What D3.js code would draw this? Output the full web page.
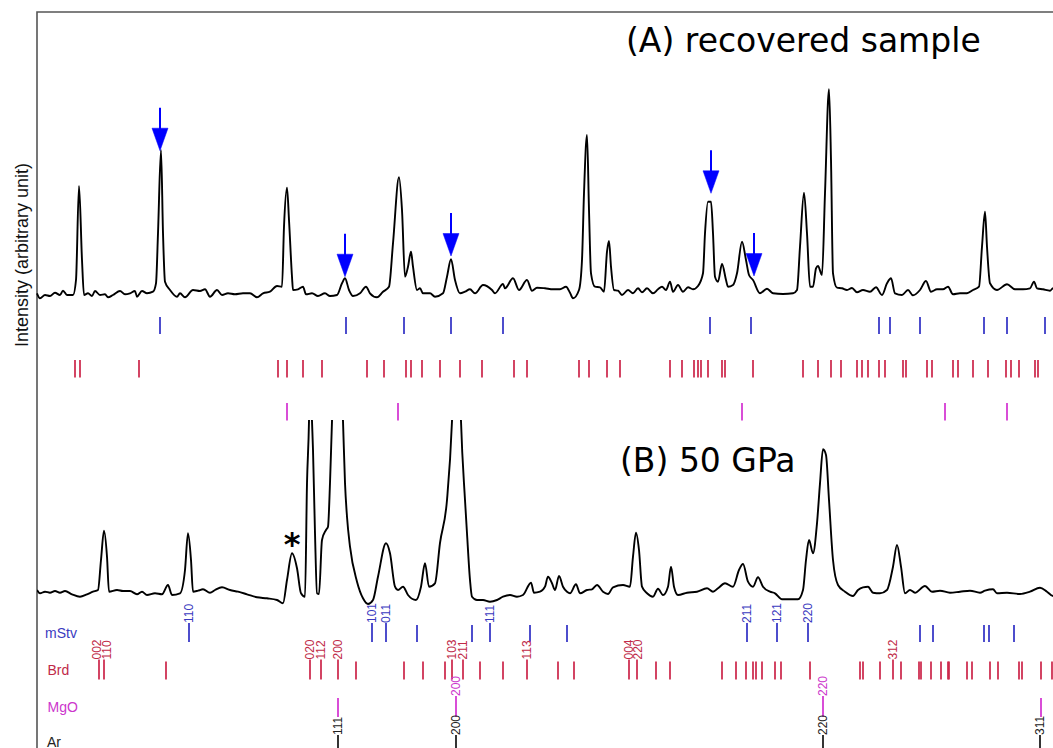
<!DOCTYPE html>
<html>
<head>
<meta charset="utf-8">
<script src="https://cdn.jsdelivr.net/npm/d3@7"></script>
<style>
  body { margin: 0; background: #fff; }
  svg { display: block; }
  text { font-family: "Liberation Sans", Arial, Helvetica, sans-serif; }
  .title, .star { font-family: "DejaVu Sans", Verdana, sans-serif; }
</style>
</head>
<body>
<svg id="chart"></svg>
<script>
// 2-theta (deg) vs intensity (arb.)
const patternA = [
  [6.00,6.7],[6.03,1.7],[6.08,5],[6.13,4],[6.18,7.3],[6.23,5],[6.26,9.3],[6.30,5],[6.36,5],[6.39,20],
  [6.42,114],[6.45,40],[6.47,5],[6.51,6.7],[6.55,4],[6.58,9],[6.63,5],[6.68,5.7],[6.71,2.7],[6.76,5],
  [6.83,9],[6.88,5.7],[6.93,6.7],[6.98,9],[7.00,3.3],[7.05,9],[7.10,6.7],[7.16,8.3],[7.19,16.7],[7.21,66.7],
  [7.24,150],[7.26,67],[7.28,18.3],[7.33,10],[7.40,3.3],[7.43,6.7],[7.48,2.7],[7.56,10],[7.63,9],[7.68,10.7],
  [7.73,3.3],[7.80,10],[7.85,5],[7.91,6.7],[7.98,5.7],[8.06,6.7],[8.13,6.7],[8.20,2.7],[8.26,6.7],[8.33,8.3],
  [8.40,14],[8.45,13.3],[8.47,73.3],[8.50,112.3],[8.52,80],[8.55,23.3],[8.56,10],[8.61,10.7],[8.66,13.3],[8.69,5.7],
  [8.75,6.7],[8.81,4],[8.88,6.7],[8.93,4],[9.00,5],[9.05,16.7],[9.08,21.7],[9.12,10],[9.16,4],[9.23,6.7],
  [9.29,13.3],[9.33,6.7],[9.40,2.7],[9.46,8.3],[9.52,13.3],[9.56,56.7],[9.62,122.7],[9.65,90],[9.68,23.3],[9.71,33.3],
  [9.74,48.3],[9.76,33.3],[9.80,10],[9.83,11.7],[9.86,6.7],[9.93,6.7],[9.98,3.3],[10.06,6.7],[10.10,23.3],[10.14,40.7],
  [10.18,20],[10.23,6.7],[10.28,8.3],[10.33,10.7],[10.38,6.7],[10.46,15],[10.55,10],[10.58,6.7],[10.66,16],[10.68,11.7],
  [10.76,21.7],[10.82,10],[10.90,20],[10.95,9.3],[11.00,12.3],[11.08,11.7],[11.16,10.7],[11.23,10.7],[11.29,13.3],[11.33,7.3],
  [11.36,1.7],[11.42,10],[11.45,40],[11.47,106.7],[11.50,165],[11.52,90],[11.54,26.7],[11.58,13.3],[11.63,12.7],[11.67,8.3],
  [11.70,48.3],[11.72,59],[11.74,33.3],[11.77,10],[11.81,9.3],[11.85,5],[11.91,10],[11.96,6.7],[12.01,11.7],[12.05,7.7],
  [12.10,11.7],[12.16,6.7],[12.21,10.7],[12.25,13.3],[12.29,10],[12.33,18.3],[12.36,8.3],[12.41,15],[12.46,8.3],[12.51,12.7],
  [12.56,10.7],[12.61,14],[12.66,26.7],[12.68,66.7],[12.71,98.3],[12.74,98.3],[12.76,66.7],[12.78,23.3],[12.81,18.3],[12.85,36],
  [12.89,20],[12.91,13.3],[12.96,15],[13.00,26.7],[13.05,58.3],[13.09,40],[13.12,25],[13.16,20],[13.23,6.7],[13.30,11.3],
  [13.36,6.7],[13.46,6],[13.56,6.7],[13.60,10],[13.63,53.3],[13.67,107.3],[13.70,66.7],[13.73,13.3],[13.76,13.3],[13.79,31.7],
  [13.81,34],[13.85,25],[13.88,106.7],[13.92,210.7],[13.94,140],[13.96,26.7],[14.00,12.3],[14.05,11.7],[14.10,10],[14.15,12],
  [14.20,7.7],[14.26,10],[14.33,8.3],[14.39,12.7],[14.45,5],[14.50,16.7],[14.54,21.7],[14.58,6.7],[14.65,5],[14.71,10],
  [14.76,4.7],[14.83,10],[14.89,19],[14.94,8.3],[15.00,10.7],[15.06,10.7],[15.11,13.3],[15.16,5.7],[15.23,6.7],[15.30,6.7],
  [15.36,10],[15.42,13.3],[15.45,53.3],[15.48,88.3],[15.50,53.3],[15.53,16.7],[15.60,10],[15.70,15.7],[15.78,10.7],[15.86,10.7],
  [15.93,11.7],[15.97,18.3],[16.00,11.7],[16.06,10.7],[16.13,9.3],[16.16,11.7],[16.25,10]
];

const patternB = [
  [6.00,10],[6.03,6.7],[6.08,8.3],[6.13,7.3],[6.18,9],[6.23,7.3],[6.28,9],[6.35,5.7],[6.43,3.3],[6.50,5.7],
  [6.56,8.3],[6.61,10],[6.64,40],[6.67,69.3],[6.70,43.3],[6.72,8.3],[6.80,10],[6.86,9],[6.93,9],[7.00,5.7],
  [7.05,8.3],[7.10,5],[7.18,6.7],[7.25,5.7],[7.31,15],[7.35,5],[7.43,6.7],[7.48,30],[7.51,66.7],[7.54,40],
  [7.56,8.3],[7.61,9.3],[7.66,10.7],[7.73,7.3],[7.78,10],[7.85,12.7],[7.93,10],[8.01,8.3],[8.10,5.7],[8.20,2.7],
  [8.30,1.7],[8.40,0],[8.46,-3.3],[8.50,20],[8.55,46.7],[8.60,31.7],[8.64,6.7],[8.68,3.3],[8.70,116.7],[8.72,179],
  [8.73,240],[8.75,179],[8.76,150],[8.78,66.7],[8.80,6.7],[8.82,6],[8.85,60],[8.89,70],[8.91,73.3],[8.93,117],
  [8.95,179],[9.01,320],[9.06,179],[9.08,117],[9.10,83.3],[9.13,53.3],[9.20,18.3],[9.26,1.7],[9.31,-4],[9.36,0],
  [9.41,23.3],[9.49,56.7],[9.53,46.7],[9.58,13.3],[9.61,10],[9.66,13.3],[9.71,5],[9.79,0],[9.84,13.3],[9.88,36.7],
  [9.92,13.3],[9.98,16.7],[10.03,57],[10.10,100],[10.15,179],[10.20,350],[10.24,179],[10.28,100],[10.30,66.7],[10.33,20],
  [10.35,3.3],[10.40,0],[10.46,0],[10.53,-1.7],[10.60,0],[10.66,3.3],[10.73,5],[10.80,3.3],[10.86,5],[10.94,17.3],
  [10.97,7.3],[11.03,8.3],[11.08,13.3],[11.11,23.3],[11.15,16.7],[11.18,10],[11.22,24],[11.26,13.3],[11.30,8.3],[11.33,6.7],
  [11.39,15.7],[11.43,6.7],[11.50,10],[11.55,10.7],[11.60,15],[11.66,8.3],[11.71,6],[11.76,12.7],[11.86,15],[11.93,13.3],
  [11.96,43.3],[11.99,67.3],[12.02,50],[12.05,13.3],[12.10,6.7],[12.16,3.3],[12.21,11.3],[12.26,5],[12.31,13.3],[12.34,33.3],
  [12.37,13.3],[12.41,5],[12.50,7.3],[12.60,8.3],[12.70,11.7],[12.76,8.3],[12.81,11.7],[12.88,16.7],[12.96,13.3],[13.02,30],
  [13.06,36],[13.11,18.3],[13.16,13.3],[13.21,22.7],[13.26,13.3],[13.33,8.3],[13.38,6.7],[13.45,0.7],[13.53,0.7],[13.61,0.7],
  [13.66,10],[13.69,40],[13.72,60],[13.76,46.7],[13.80,76.7],[13.83,116.7],[13.86,150.7],[13.89,145],[13.92,100],[13.96,40],
  [14.01,15],[14.08,8.3],[14.16,4],[14.21,10],[14.26,12.7],[14.31,13.3],[14.36,7.3],[14.43,6.7],[14.50,10],[14.56,33.3],
  [14.60,55],[14.64,33.3],[14.68,6.7],[14.73,10],[14.78,7.3],[14.88,14],[14.95,8.3],[15.03,9.3],[15.13,7.3],[15.23,8.3],
  [15.33,9.3],[15.43,7.3],[15.48,9.3],[15.56,10.7],[15.60,6.7],[15.70,7.3],[15.83,6],[15.93,8.3],[16.03,12.3],[16.10,8.3],
  [16.16,4],[16.25,5]
];

// arrow tips in pattern A (2-theta, intensity)
const arrowsA = [[7.23,149.3],[9.08,23.3],[10.14,44],[12.74,106.7],[13.17,24]];
// unidentified peak in pattern B
const starsB = [[8.55,46.7]];

// reference reflections, recovered sample (no indices shown)
const stvA = [7.23,9.09,9.67,10.14,10.66,12.73,13.14,14.42,14.53,14.83,15.47,15.70,16.08];
const brdA = [6.38,6.43,7.02,8.41,8.50,8.66,8.85,9.30,9.47,9.69,9.74,9.85,10.03,10.23,10.45,10.77,10.90,
  11.42,11.52,11.70,11.83,12.33,12.45,12.57,12.61,12.64,12.71,12.85,12.88,13.16,13.66,13.81,13.94,14.04,
  14.20,14.25,14.31,14.42,14.48,14.66,14.69,14.90,14.95,15.16,15.21,15.36,15.51,15.69,15.74,15.82,15.98,16.01];
const mgoA = [8.50,9.61,13.05,15.08,15.70];

// reference reflections at 50 GPa: [2-theta, hkl]
const stvB = [[7.52,"110"],[9.35,"101"],[9.49,"011"],[9.80,""],[10.35,""],[10.53,"111"],[10.93,""],[11.30,""],
  [13.10,"211"],[13.40,"121"],[13.71,"220"],[14.83,""],[14.96,""],[15.47,""],[15.52,""],[15.77,""]];
const brdB = [[6.62,"002"],[6.67,"110"],[7.29,""],[8.73,"020"],[8.84,"112"],[9.01,"200"],[9.19,""],[9.67,""],
  [9.86,""],[10.08,""],[10.15,"103"],[10.26,"211"],[10.43,""],[10.66,""],[10.90,"113"],[11.21,""],[11.37,""],
  [11.92,"004"],[12.00,"220"],[12.19,""],[12.33,""],[12.85,""],[12.99,""],[13.09,""],[13.16,""],[13.19,""],
  [13.25,""],[13.38,""],[13.44,""],[13.73,""],[14.23,""],[14.26,""],[14.43,""],[14.56,"312"],[14.64,""],
  [14.82,""],[14.84,""],[14.94,""],[15.04,""],[15.11,""],[15.12,""],[15.30,""],[15.35,""],[15.53,""],
  [15.61,""],[15.82,""],[15.85,""],[16.04,""],[16.15,""]];
const mgoB = [[9.01,""],[10.19,"200"],[13.86,"220"],[16.04,""]];
const arB = [[9.01,"111"],[10.19,"200"],[13.86,"220"],[16.03,"311"]];

const phaseNames = ["mStv","Brd","MgO","Ar"];
const panelTitles = ["(A) recovered sample","(B) 50 GPa"];
const yTitle = "Intensity (arbitrary unit)";

const W = 1053, H = 748;
const colors = { stv: "#2e2ec4", brd: "#cc2448", mgo: "#d22ed0", ar: "#111111" };
const labelColors = { stv: "#3a3ac0", brd: "#c02a48", mgo: "#cc36cc", ar: "#222222" };

const svg = d3.select("#chart").attr("width", W).attr("height", H);

const x = d3.scaleLinear().domain([6, 16]).range([37, 1037]);
const yA = d3.scaleLinear().domain([0, 288]).range([300, 12]);
const yB = d3.scaleLinear().domain([0, 180]).range([600, 420]);

svg.append("defs").append("clipPath").attr("id", "clipB")
  .append("rect").attr("x", 37).attr("y", 420).attr("width", W - 37).attr("height", H - 420);

// frame (open at right and bottom: figure is cropped)
svg.append("path")
  .attr("d", `M37,${H + 5}V12H${W + 5}`)
  .attr("fill", "none").attr("stroke", "#555").attr("stroke-width", 1.6);

svg.append("text")
  .attr("transform", "translate(28,255) rotate(-90)")
  .attr("text-anchor", "middle")
  .attr("font-size", 18)
  .attr("fill", "#111")
  .text(yTitle);

// patterns
const lineA = d3.line().curve(d3.curveMonotoneX).x(d => x(d[0])).y(d => yA(d[1]));
const lineB = d3.line().curve(d3.curveMonotoneX).x(d => x(d[0])).y(d => yB(d[1]));

svg.append("path").datum(patternA)
  .attr("d", lineA).attr("fill", "none")
  .attr("stroke", "#000").attr("stroke-width", 1.9).attr("stroke-linejoin", "round");

svg.append("path").datum(patternB)
  .attr("clip-path", "url(#clipB)")
  .attr("d", lineB).attr("fill", "none")
  .attr("stroke", "#000").attr("stroke-width", 1.9).attr("stroke-linejoin", "round");

// titles
svg.append("text").attr("class", "title")
  .attr("x", 626).attr("y", 52).attr("font-size", 33).attr("fill", "#000")
  .text(panelTitles[0]);
svg.append("text").attr("class", "title")
  .attr("x", 620).attr("y", 472).attr("font-size", 33).attr("fill", "#000")
  .text(panelTitles[1]);

// blue arrows on pattern A
const arrowLen = 43, headLen = 22.5, headHalf = 8;
const arrows = svg.append("g").attr("fill", "#0000ff").attr("stroke", "#0000ff");
arrowsA.forEach(([t, v]) => {
  const ax = x(t), ay = yA(v);
  arrows.append("line")
    .attr("x1", ax).attr("x2", ax)
    .attr("y1", ay - arrowLen).attr("y2", ay - headLen + 1)
    .attr("stroke-width", 2);
  arrows.append("path")
    .attr("d", `M${ax - headHalf},${ay - headLen}L${ax + headHalf},${ay - headLen}L${ax},${ay}Z`)
    .attr("stroke-width", 0.5);
});

// star on pattern B
starsB.forEach(([t, v]) => {
  svg.append("text").attr("class", "star")
    .attr("x", x(t)).attr("y", yB(v) + 2)
    .attr("text-anchor", "middle").attr("font-size", 32).attr("font-weight", "bold").attr("fill", "#000")
    .text("*");
});

// tick rows, panel A
const rowsA = [
  { ticks: stvA, color: colors.stv, y0: 317, y1: 334 },
  { ticks: brdA, color: colors.brd, y0: 360, y1: 377.5 },
  { ticks: mgoA, color: colors.mgo, y0: 403, y1: 420.5 }
];
rowsA.forEach(r => {
  svg.append("g").selectAll("line").data(r.ticks).join("line")
    .attr("x1", d => x(d)).attr("x2", d => x(d))
    .attr("y1", r.y0).attr("y2", r.y1)
    .attr("stroke", r.color).attr("stroke-width", 1.7);
});

// tick rows, panel B (with indices)
const rowsB = [
  { name: phaseNames[0], ticks: stvB, color: colors.stv, lc: labelColors.stv, y0: 625, y1: 642, ty: 638, tx: 45 },
  { name: phaseNames[1], ticks: brdB, color: colors.brd, lc: labelColors.brd, y0: 661.5, y1: 679.5, ty: 674.5, tx: 47.5 },
  { name: phaseNames[2], ticks: mgoB, color: colors.mgo, lc: labelColors.mgo, y0: 698, y1: 717, ty: 712, tx: 47.5 },
  { name: phaseNames[3], ticks: arB, color: colors.ar, lc: labelColors.ar, y0: 737, y1: H + 10, ty: 746.5, tx: 47 }
];

rowsB.forEach(r => {
  const g = svg.append("g");
  g.selectAll("line").data(r.ticks).join("line")
    .attr("x1", d => x(d[0])).attr("x2", d => x(d[0]))
    .attr("y1", d => d[1] ? r.y0 - 2 : r.y0).attr("y2", r.y1)
    .attr("stroke", r.color).attr("stroke-width", 1.7);

  // spread crowded indices a little
  const labs = r.ticks.filter(d => d[1]).map(d => ({ t: d[1], px: x(d[0]) }));
  for (let i = 0; i < labs.length - 1; i++) {
    const gap = labs[i + 1].px - labs[i].px;
    if (gap < 9.5) {
      labs[i].px -= (9.5 - gap) / 2;
      labs[i + 1].px += (9.5 - gap) / 2;
    }
  }
  g.selectAll("text").data(labs).join("text")
    .attr("transform", d => `translate(${d.px},${r.y0 - 2}) rotate(-90)`)
    .attr("dy", "0.36em")
    .attr("font-size", 12)
    .attr("fill", r.lc)
    .text(d => d.t);

  svg.append("text")
    .attr("x", r.tx).attr("y", r.ty)
    .attr("font-size", 14).attr("fill", r.lc)
    .text(r.name);
});
</script>
</body>
</html>
